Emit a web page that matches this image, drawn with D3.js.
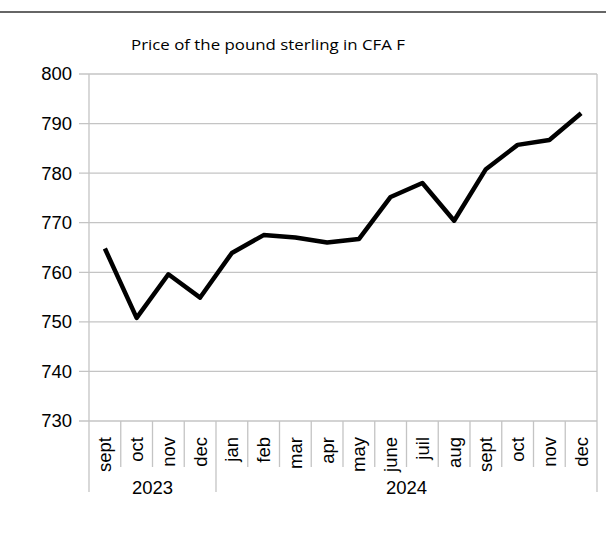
<!DOCTYPE html>
<meta charset="utf-8">
<style type="text/css">
  body { margin: 0; background: #fff; }
  .grid line { stroke: #c4c4c4; stroke-width: 1.3; }
  .line { fill: none; stroke: #000; stroke-width: 4.5; stroke-linejoin: round; }
  text { font-family: "Liberation Sans", Arial, sans-serif; fill: #000; }
</style>
<body>
</body>
<script src="https://d3js.org/d3.v7.min.js"></script>
<script>
  // Price of the pound sterling in CFA F, monthly, sept 2023 -> dec 2024

  var months = ["sept", "oct", "nov", "dec", "jan", "feb", "mar", "apr", "may",
    "june", "juil", "aug", "sept", "oct", "nov", "dec"];
  var monthYear = ["2023", "2023", "2023", "2023", "2024", "2024", "2024", "2024", "2024",
    "2024", "2024", "2024", "2024", "2024", "2024", "2024"];
  var years = ["2023", "2024"];
  var prices = [764.8, 750.8, 759.6, 754.9, 763.9, 767.5, 767.0, 766.0, 766.7,
    775.2, 778.0, 770.4, 780.8, 785.7, 786.7, 792.1];
  var yTicks = [730, 740, 750, 760, 770, 780, 790, 800];

  var width = 606, height = 535;
  var margin = { top: 74, right: 9, bottom: 114, left: 89 };
  var x0 = margin.left, x1 = width - margin.right;
  var y0 = height - margin.bottom, y1 = margin.top;

  var svg = d3.select("body").append("svg")
    .attr("width", width)
    .attr("height", height);

  // thin rule across the top of the page
  svg.append("line")
    .attr("x1", 0).attr("x2", width)
    .attr("y1", 12).attr("y2", 12)
    .attr("stroke", "#333").attr("stroke-width", 1.4);

  svg.append("text")
    .attr("x", 268).attr("y", 50)
    .attr("text-anchor", "middle")
    .style("font-family", "'Open Sans', sans-serif")
    .style("font-size", "14px")
    .attr("textLength", 274)
    .attr("lengthAdjust", "spacingAndGlyphs")
    .text("Price of the pound sterling in CFA F");

  var xScale = d3.scaleBand()
    .domain(d3.range(months.length))
    .range([x0, x1]);

  var yScale = d3.scaleLinear()
    .domain([730, 800])
    .range([y0, y1]);

  // horizontal gridlines + y tick labels
  var grid = svg.append("g").attr("class", "grid");
  grid.selectAll(".h").data(yTicks).join("line")
    .attr("class", "h")
    .attr("x1", x0 - 10).attr("x2", x1)
    .attr("y1", function(d) { return yScale(d); })
    .attr("y2", function(d) { return yScale(d); });

  svg.append("g").selectAll("text").data(yTicks).join("text")
    .attr("x", x0 - 17)
    .attr("y", function(d) { return yScale(d); })
    .attr("dy", "0.35em")
    .attr("text-anchor", "end")
    .style("font-size", "18.5px")
    .text(function(d) { return d; });

  // left axis and right border reach down to the year row
  grid.append("line")
    .attr("x1", x0).attr("x2", x0).attr("y1", y1).attr("y2", 492);
  grid.append("line")
    .attr("x1", x1).attr("x2", x1).attr("y1", y1).attr("y2", 492);

  // dividers between months
  var idx = d3.range(1, months.length);
  grid.selectAll(".m").data(idx).join("line")
    .attr("class", "m")
    .attr("x1", function(i) { return xScale(i); })
    .attr("x2", function(i) { return xScale(i); })
    .attr("y1", y0)
    .attr("y2", function(i) { return monthYear[i] !== monthYear[i - 1] ? 492 : 467; });

  // month labels, rotated
  svg.append("g").selectAll("text").data(months).join("text")
    .attr("transform", function(d, i) {
      return "translate(" + (xScale(i) + xScale.bandwidth() / 2) + ",437) rotate(-90)";
    })
    .attr("dy", "0.35em")
    .attr("text-anchor", "end")
    .style("font-size", "18.5px")
    .text(function(d) { return d; });

  // year labels centred under their months
  svg.append("g").selectAll("text").data(years).join("text")
    .attr("x", function(yr) {
      var first = monthYear.indexOf(yr), last = monthYear.lastIndexOf(yr);
      return (xScale(first) + xScale(last) + xScale.bandwidth()) / 2;
    })
    .attr("y", 494)
    .attr("text-anchor", "middle")
    .style("font-size", "18.5px")
    .text(function(d) { return d; });

  var line = d3.line()
    .x(function(d, i) { return xScale(i) + xScale.bandwidth() / 2; })
    .y(function(d) { return yScale(d); });

  svg.append("path")
    .datum(prices)
    .attr("class", "line")
    .attr("d", line);
</script>
